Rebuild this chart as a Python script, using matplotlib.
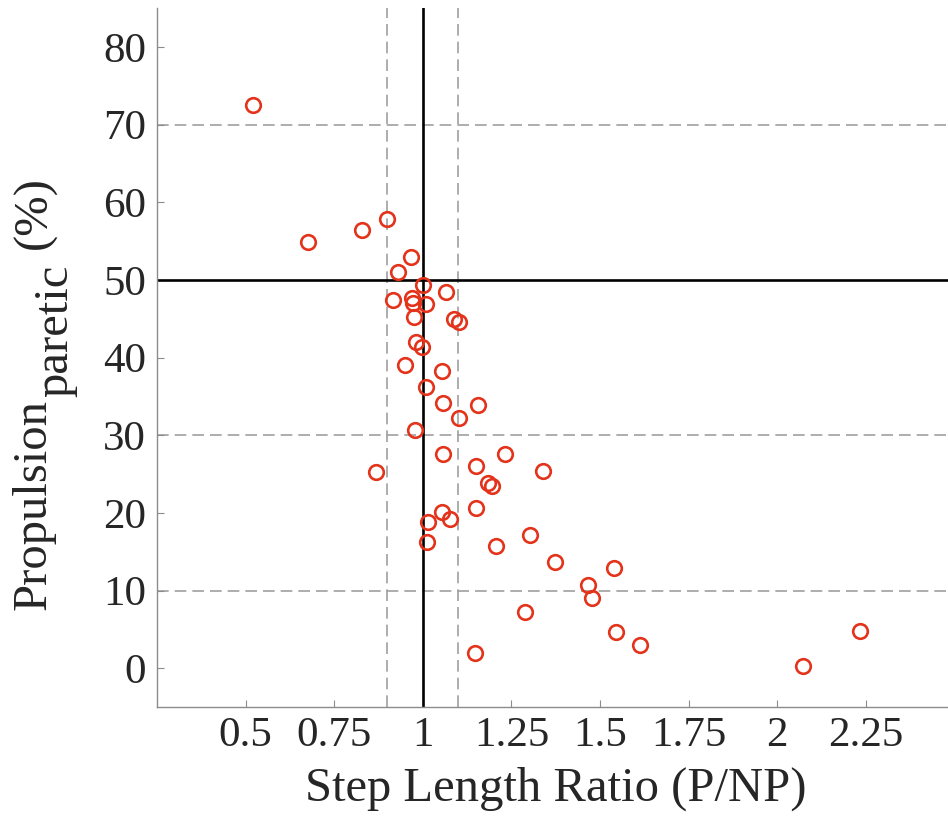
import matplotlib
matplotlib.use("Agg")
import matplotlib.pyplot as plt

# step length ratio (paretic / non-paretic) vs paretic propulsion (%)
step_ratio = [0.52, 0.675, 0.829, 0.90, 0.968, 0.931, 1.0, 1.064, 0.917, 0.97,
              0.972, 1.01, 0.975, 1.087, 1.102, 0.982, 0.997, 0.949, 1.055, 1.008,
              1.057, 1.157, 1.103, 0.979, 1.057, 1.232, 0.868, 1.151, 1.34, 1.184,
              1.196, 1.151, 1.053, 1.078, 1.015, 1.013, 1.206, 1.303, 1.372, 1.539,
              1.465, 1.476, 1.288, 1.545, 1.612, 1.148, 2.072, 2.232]
propulsion = [72.5, 54.85, 56.4, 57.8, 52.95, 51.0, 49.3, 48.4, 47.4, 47.6,
              47.0, 46.9, 45.2, 45.0, 44.6, 42.0, 41.4, 39.0, 38.2, 36.2,
              34.2, 33.95, 32.15, 30.7, 27.6, 27.6, 25.3, 26.05, 25.4, 23.8,
              23.5, 20.6, 20.1, 19.15, 18.85, 16.2, 15.7, 17.15, 13.7, 12.9,
              10.7, 9.0, 7.2, 4.6, 3.0, 1.9, 0.3, 4.75]

xticks = [0.5, 0.75, 1, 1.25, 1.5, 1.75, 2, 2.25]
xticklabels = ["0.5", "0.75", "1", "1.25", "1.5", "1.75", "2", "2.25"]
yticks = [0, 10, 20, 30, 40, 50, 60, 70, 80]
ref_x = 1.0
ref_y = 50
band_x = [0.9, 1.1]
band_y = [10, 30, 70]

plt.rcParams['font.family'] = ['Liberation Serif', 'DejaVu Serif']

fig = plt.figure(figsize=(9.48, 8.25), dpi=100)
ax = fig.add_axes([0.1656, 0.1430, 0.8413, 0.8473])

grey = '#a0a0a0'
dash = (0, (7, 3.6))
for v in band_x:
    ax.axvline(v, color=grey, lw=1.2, linestyle=dash, zorder=1)
for v in band_y:
    ax.axhline(v, color=grey, lw=1.2, linestyle=dash, zorder=1)
ax.axvline(ref_x, color='black', lw=1.9, zorder=2)
ax.axhline(ref_y, color='black', lw=1.9, zorder=2)

ax.plot(step_ratio, propulsion, 'o', markersize=10.5, markerfacecolor='none',
        markeredgecolor='#e3331b', markeredgewidth=1.9, zorder=3)

ax.set_xlim(0.25, 2.5)
ax.set_ylim(-5, 85)
ax.set_xticks(xticks)
ax.set_xticklabels(xticklabels)
ax.set_yticks(yticks)

for s in ['top', 'right']:
    ax.spines[s].set_visible(False)
for s in ['left', 'bottom']:
    ax.spines[s].set_color('#8c8c8c')
    ax.spines[s].set_linewidth(1.0)
ax.tick_params(direction='in', length=5, width=0.8, color='#8c8c8c',
               labelsize=31, labelcolor='#262626')
ax.tick_params(axis='x', pad=7)
ax.tick_params(axis='y', pad=8)

ax.set_xlabel('Step Length Ratio (P/NP)', fontsize=35, color='#262626', labelpad=8)

# y label: MATLAB-style subscript at full size, built from pieces
fig.canvas.draw()
r = fig.canvas.get_renderer()
W, H = fig.bbox.width, fig.bbox.height
kw = dict(rotation=90, rotation_mode='anchor', ha='left', va='baseline',
          fontsize=35, color='#262626')
x0 = 46 / W
t1 = fig.text(x0, 1 - 610 / H, 'Propulsion', **kw)
bb = t1.get_window_extent(r)
t2 = fig.text(x0 + 21 / W, (bb.y1 + 2) / H, 'paretic', **kw)
bb2 = t2.get_window_extent(r)
fig.text(x0, (bb2.y1 + 16) / H, '(%)', **kw)

fig.savefig('out.png', dpi=100)
